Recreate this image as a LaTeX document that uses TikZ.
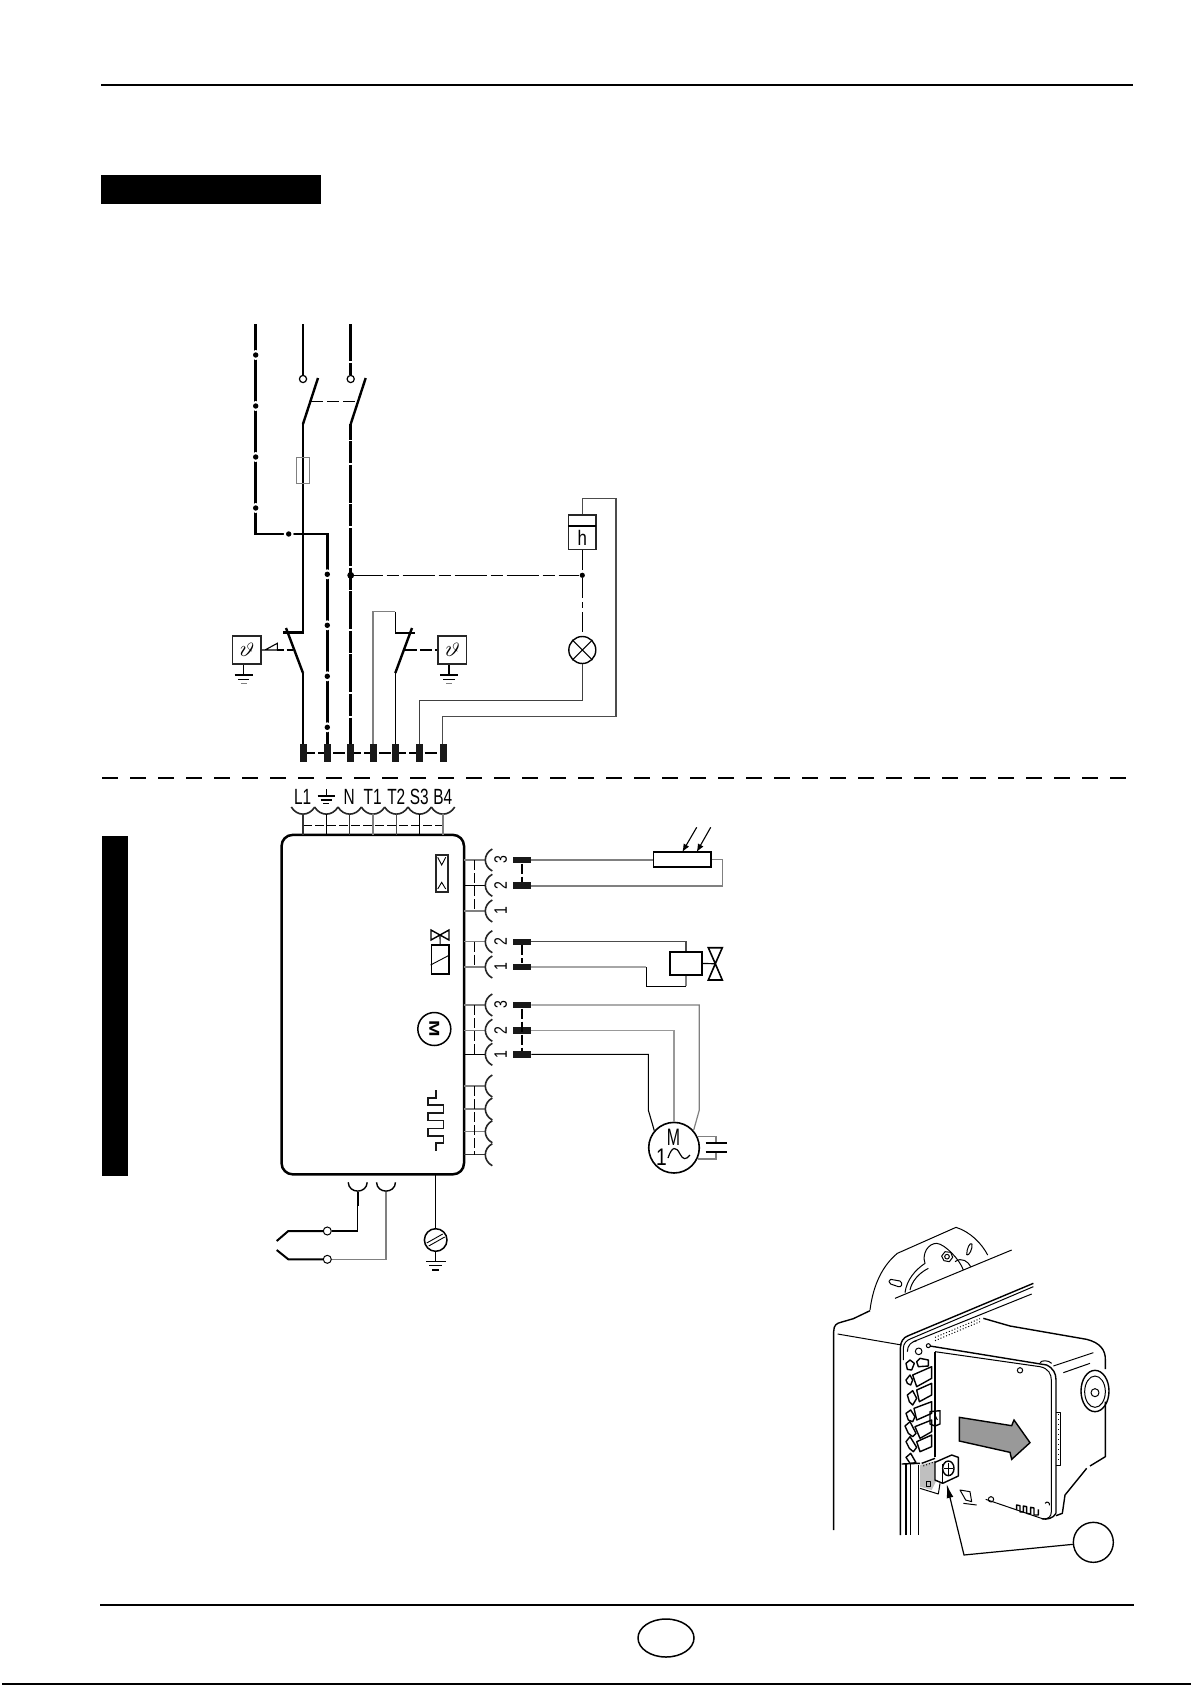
\documentclass[tikz,border=0pt]{standalone}
\usepackage{fontspec}
\usepackage{graphicx}
\setmainfont{Liberation Sans}
\usetikzlibrary{arrows.meta,patterns}
\definecolor{wg}{gray}{0.5}
\tikzset{
 heavy/.style={line width=1.4pt,black},
 fine/.style={line width=0.55pt,black},
 wire/.style={line width=0.6pt,wg},
 frame/.style={line width=0.85pt,draw=black!85},
 tv/.style={rectangle,fill=black!90,inner sep=0pt,minimum width=3.5pt,minimum height=9pt},
 th/.style={rectangle,fill=black!90,inner sep=0pt,minimum width=9pt,minimum height=3.2pt},
 ctc/.style={circle,draw=black,fill=white,line width=0.6pt,inner sep=0pt,minimum size=3.6pt},
 ctcb/.style={circle,draw=black,fill=white,line width=0.5pt,inner sep=0pt,minimum size=4pt},
 lbl/.style={inner sep=0pt,font=\fontsize{11}{11}\selectfont},
 num/.style={inner sep=0pt,rotate=90,font=\fontsize{9}{9}\selectfont},
 ph/.style={line width=0.5pt,black,line join=round},
 phb/.style={line width=0.7pt,black,line join=round},
}
\newcommand\wiredot[2]{\fill[white] (#1,#2) circle (5); \fill (#1,#2) circle (2.7);}
\newcommand\earthsym[3]{%
 \draw[fine] (#1-#3,#2) -- (#1+#3,#2);
 \draw[fine] (#1-#3*0.62,#2+4.2) -- (#1+#3*0.62,#2+4.2);
 \draw[line width=0.6pt,wg] (#1-#3*0.32,#2+8.6) -- (#1+#3*0.32,#2+8.6);}
\begin{document}
\begin{tikzpicture}[x=0.5pt,y=-0.5pt]
\useasboundingbox (0,0) rectangle (1191,1685);
\fill[white] (0,0) rectangle (1191,1685);
% page furniture
\coordinate (topL) at (101,85); \coordinate (topR) at (1133,85);
\draw[line width=1.15pt] (topL) -- (topR);
\fill (101,175) rectangle (321,204);
\fill (102,836) rectangle (128,1176);
\coordinate (botL) at (100,1605); \coordinate (botR) at (1134,1605);
\draw[line width=1.15pt] (botL) -- (botR);
\coordinate (edgeL) at (2,1684); \coordinate (edgeR) at (1191,1684);
\draw[line width=0.7pt] (edgeL) -- (edgeR);
\draw[line width=0.75pt] (666,1638) ellipse (28 and 19);
\coordinate (sepL) at (102,778); \coordinate (sepR) at (1131,778);
\draw[line width=1.15pt,dash pattern=on 8pt off 6pt] (sepL) -- (sepR);

% ---- terminals row
\draw[line width=0.85pt,dash pattern=on 6pt off 1.6pt] (303,753) -- (443,753);
\node[tv] (tL) at (303,753) {};
\node[tv] (tE) at (327.3,753) {};
\node[tv] (tN) at (350.7,753) {};
\node[tv] (tA) at (373,753) {};
\node[tv] (tB) at (395.3,753) {};
\node[tv] (tS) at (419.7,753) {};
\node[tv] (tH) at (443,753) {};

% ---- PE line
\coordinate (peTop) at (255.7,324);
\coordinate (peBend) at (255.7,534);
\coordinate (peRight) at (327.3,534);
\draw[heavy] (peTop) -- (peBend) -- (peRight) -- (tE.north);
\foreach \y in {355,406,457,508} {\wiredot{255.7}{\y}}
\wiredot{288.7}{534}
\foreach \y in {574.3,625.3,676.3,727.3} {\wiredot{327.3}{\y}}

% ---- L line
\node[ctc] (cL) at (303,379) {};
\node[ctc] (cN) at (350.7,379) {};
\coordinate (lTop) at (303,324);
\coordinate (nTop) at (350.7,324);
\draw[heavy] (lTop) -- (cL.north);
\draw[heavy,dash pattern=on 18.5pt off 1pt] (nTop) -- (cN.north);
\coordinate (swL) at (303,424); \coordinate (swLe) at (318,378);
\coordinate (swN) at (350.7,424); \coordinate (swNe) at (365.7,378);
\draw[line width=1.2pt] (swL) -- (swLe);
\draw[line width=1.2pt] (swN) -- (swNe);
\draw[line width=0.7pt,dash pattern=on 6pt off 2pt] (311,401.7) -- (356.7,401.7);
\coordinate (barL) at (303,632.7);
\draw[heavy] (swL) -- (barL) -- (283,632.7);
\node[draw=wg,line width=0.5pt,inner sep=0pt,minimum width=6.5pt,minimum height=12.8pt] (fuse) at (303.2,470.5) {};
\coordinate (blL) at (303,673);
\draw[line width=1.2pt] (286,628) -- (blL);
\draw[heavy] (blL) -- (tL.north);
% ---- N line
\draw[heavy,dash pattern=on 11pt off .8pt on 19pt off .8pt,dash phase=23pt] (swN) -- (tN.north);
\fill (350.7,575.3) circle (3.4);
\node[circle,fill=black,inner sep=0pt,minimum size=2.6pt] (jH) at (582.3,575.3) {};
\draw[fine,dash pattern=on 16pt off 2pt on 6pt off 2pt] (350.7,575.3) -- (jH);

% ---- thermostat right
\coordinate (tA1) at (373,611.7); \coordinate (tA2) at (395.3,611.7); \coordinate (barR) at (395.3,632.7);
\draw[line width=0.7pt,wg] (tA.north) -- (tA1) -- (tA2);
\draw[fine] (tA2) -- (barR);
\draw[line width=1.2pt] (barR) -- (415,632.7);
\coordinate (blR) at (395.3,673);
\draw[line width=1.2pt] (412,628) -- (blR);
\draw[fine] (blR) -- (tB.north);

% thermostat boxes
\node[frame,draw,fill=white,inner sep=0pt,minimum width=14.2pt,minimum height=14.2pt,font=\fontsize{10.5}{10.5}\selectfont] (thL) at (246.8,650) {\rotatebox{-20}{$\vartheta$}};
\node[frame,draw,fill=white,inner sep=0pt,minimum width=14.2pt,minimum height=14.2pt,font=\fontsize{10.5}{10.5}\selectfont] (thR) at (452.2,650) {\rotatebox{-20}{$\vartheta$}};
\coordinate (gL) at (243.7,675); \coordinate (gR) at (449,675);
\draw[fine] (thL.south -| gL) -- (gL);
\draw[fine] (thR.south -| gR) -- (gR);
\earthsym{243.7}{675}{9}
\earthsym{449}{675}{9}
\coordinate (trA) at (265,650); \coordinate (trB) at (277.3,643.3); \coordinate (trC) at (277.3,650); \coordinate (bladeL) at (293,650); \coordinate (bladeR) at (405,650);
\draw[fine] (thL.east) -- (trA) -- (trB) -- (trC) -- cycle;
\draw[fine,dash pattern=on 3.5pt off 1.2pt] (trC) -- (bladeL);
\draw[fine,dash pattern=on 6pt off 1.5pt] (bladeR) -- (thR.west);

% hour counter and lamp
\node[frame,draw,inner sep=0pt,minimum width=13.9pt,minimum height=17.2pt] (hc) at (582.3,532.2) {};
\draw[line width=.8pt] (568.3,526) -- (596.3,526);
\node[inner sep=0pt,font=\fontsize{10.5}{10.5}\selectfont] (hlbl) at (582.3,538) {\scalebox{.8}[1]{h}};
\node[circle,draw,line width=.7pt,inner sep=0pt,minimum size=13.5pt] (lamp) at (582.3,650) {};
\draw[line width=.5pt] (lamp.north west) -- (lamp.south east) (lamp.north east) -- (lamp.south west);
\draw[fine,dash pattern=on 10pt off 2pt on 3pt off 2pt] (hc.south) -- (jH) -- (lamp.north);
\coordinate (h1) at (582.3,498.7); \coordinate (h2) at (616,498.7); \coordinate (h3) at (616,716.3); \coordinate (h4) at (442.7,716.3);
\draw[wire,black!70] (hc.north) -- (h1) -- (h2) -- (h3) -- (h4) -- (h4 |- tH.north);
\coordinate (l1) at (582.3,700.3); \coordinate (l2) at (419.7,700.3);
\draw[wire,black!75] (lamp.south) -- (l1) -- (l2) -- (tS.north);

% ================ lower section
\node[draw,line width=1.25pt,rounded corners=5.5pt,inner sep=0pt,minimum width=91.2pt,minimum height=169.7pt] (main) at (372.8,1004.6) {};
\foreach \x/\t/\n in {302.7/L1/a,349.3/N/c,372.7/T1/d,396.3/T2/e,419.3/S3/f,442.7/B4/g} {
  \node[lbl] (lb\n) at (\x,797) {\scalebox{0.7}[1]{\t}};
}
\coordinate (eTop) at (326.3,789); \coordinate (eBot) at (326.3,796);
\draw[fine] (eTop) -- (eBot);
\draw[fine] (317.7,796) -- (335,796);
\draw[fine] (320.7,800) -- (332.3,800);
\draw[fine] (323.3,803.3) -- (329.3,803.3);
\draw[line width=.5pt,dash pattern=on 4.5pt off 1.5pt] (303,825) -- (443,825);
\foreach \x/\c in {303/black!80,326.3/black,349.7/black!80,373/wg,396.3/black!70,419.7/black,443/wg} {
  \draw[line width=0.8pt,black!85] (\x-11.7,807) .. controls (\x-6,816.5) and (\x+6,816.5) .. (\x+11.7,807);
  \draw[line width=0.55pt,\c] (\x,814) -- (\x,835);
}
% right sockets
\foreach \y/\c in {860/wg,885.3/black,911/wg,941.7/wg,967/wg,1005/wg,1030.3/wg,1054.3/black,1086/wg,1109/wg,1131.7/wg,1154.7/black!80} {
  \draw[line width=0.55pt,\c] (464,\y) -- (485,\y);
  \draw[line width=0.8pt,black!85] (492.3,\y-11) .. controls (483,\y-6) and (483,\y+6) .. (492.3,\y+11);
}
\foreach \a/\b in {860/911,941.7/967,1005/1054.3,1086/1154.7} {
  \draw[fine,dash pattern=on 5pt off 1.5pt] (474.7,\a) -- (474.7,\b);
}
\foreach \y/\t/\n in {860/3/a,885.3/2/b,911/1/c,941.7/2/d,967/1/e,1005/3/f,1030.3/2/g,1054.3/1/h} {
  \node[num] (nm\n) at (500.7,\y) {\scalebox{0.78}[1]{\t}};
}
% plug terminals
\node[th] (p3a) at (522,860) {};
\node[th] (p2a) at (522,885.3) {};
\node[th] (p2b) at (522,941.7) {};
\node[th] (p1b) at (522,967) {};
\node[th] (p3c) at (522,1005) {};
\node[th] (p2c) at (522,1030.3) {};
\node[th] (p1c) at (522,1054.3) {};
\draw[line width=.9pt,dash pattern=on 5pt off 1.5pt] (p3a) -- (p2a);
\draw[line width=.9pt,dash pattern=on 5pt off 1.5pt] (p2b) -- (p1b);
\draw[line width=.9pt,dash pattern=on 5pt off 1.5pt] (p3c) -- (p1c);
% potentiometer
\node[draw,line width=.8pt,inner sep=0pt,minimum width=28.7pt,minimum height=7.3pt] (res) at (682,859.5) {};
\draw[wire] (p3a.east) -- (p3a.east -| res.west);
\coordinate (r1) at (722.3,859.5); \coordinate (r2) at (722.3,886);
\draw[wire] (res.east) -- (r1) -- (r2) -- (r2 -| p2a.east) -- (p2a.east);
\coordinate (ar1) at (696.7,827.3); \coordinate (ar2) at (710.7,827.3);
\draw[fine,-{Latex[length=4pt,width=3.2pt]}] (ar1) -- (682.3,852);
\draw[fine,-{Latex[length=4pt,width=3.2pt]}] (ar2) -- (696.7,852);
% valve
\node[draw,line width=.8pt,inner sep=0pt,minimum width=16pt,minimum height=11.6pt] (vc) at (686,963.5) {};
\coordinate (v1) at (686,941.7);
\draw[wire,black!70] (p2b.east) -- (v1) -- (vc.north);
\coordinate (v2) at (686,986.3); \coordinate (v3) at (646.3,986.3); \coordinate (v4) at (646.3,967);
\draw[wire] (vc.south) -- (v2);
\draw[fine] (v2) -- (v3) -- (v4);
\draw[line width=.8pt,wg!70] (v4) -- (p1b.east);
\coordinate (va) at (715.3,963.7);
\draw[line width=.6pt] (vc.east) -- (va);
\draw[line width=.8pt] (va) -- (708.3,947.7) -- (722.3,947.7) -- cycle;
\draw[line width=.8pt] (va) -- (708.3,980) -- (722.3,980) -- cycle;
% motor
\node[circle,draw,line width=.8pt,inner sep=0pt,minimum size=25.3pt] (mot) at (674,1147.7) {};
\node[inner sep=0pt,font=\fontsize{11}{11}\selectfont] (motM) at (673.5,1137.5) {\scalebox{.72}[1.08]{M}};
\node[inner sep=0pt,font=\fontsize{12}{12}\selectfont] (mot1) at (661.5,1157) {\scalebox{.8}[1]{1}};
\draw[line width=.6pt] (668,1158) .. controls (672,1146) and (676,1146) .. (680,1154) .. controls (683,1160) and (686,1160) .. (690,1155);
\coordinate (m31) at (699.3,1005); \coordinate (m32) at (699.3,1110); \coordinate (m33) at (693.7,1130);
\draw[wire] (p3c.east) -- (m31) -- (m32) -- (m33);
\coordinate (m21) at (674,1030.3);
\draw[wire,wg!80] (p2c.east) -- (m21) -- (mot.north);
\coordinate (m11) at (648.3,1054.3); \coordinate (m12) at (648.3,1110); \coordinate (m13) at (654.3,1130.7);
\draw[fine] (p1c.east) -- (m11) -- (m12) -- (m13);
\coordinate (c1) at (697.7,1136.7); \coordinate (c2) at (716,1136.7); \coordinate (c3) at (716,1143.3);
\coordinate (c4) at (697.7,1159); \coordinate (c5) at (716,1159); \coordinate (c6) at (716,1151.7);
\draw[wire] (c1) -- (c2) -- (c3);
\draw[wire] (c4) -- (c5) -- (c6);
\draw[line width=1.1pt] (705.7,1143.3) -- (726.7,1143.3) (705.7,1151.7) -- (726.7,1151.7);
% internal symbols
\draw[line width=.8pt,black!85] (435.7,855) rectangle (447.7,891.7);
\draw[line width=.45pt] (437.7,857.3) -- (441.7,865) -- (445.7,857.3);
\draw[line width=.45pt] (437.7,889) -- (441.7,882.3) -- (445.7,889);
\coordinate (bw) at (440,935);
\draw[line width=.7pt] (bw) -- (431,930) -- (431,940) -- cycle;
\draw[line width=.7pt] (bw) -- (449,930) -- (449,940) -- cycle;
\node[draw,line width=.7pt,inner sep=0pt,minimum width=8.8pt,minimum height=14.5pt] (sol) at (440.1,959.5) {};
\draw[fine] (bw) -- (sol.north);
\draw[line width=.45pt] (sol.west |- 0,965) -- (sol.east |- 0,955);
\node[circle,draw,line width=.75pt,inner sep=0pt,minimum size=16.5pt] (msym) at (434.3,1029) {};
\node[inner sep=0pt,rotate=-90,font=\bfseries\fontsize{9}{9}\selectfont] (msyml) at (434.3,1029) {\scalebox{1.1}[.8]{M}};
\draw[line width=.8pt,black!90,line join=miter] (435.7,1090) -- (435.7,1097.7) -- (427.7,1097.7) -- (427.7,1105) -- (443.3,1105) -- (443.3,1112.7) -- (427.7,1112.7) -- (427.7,1120.3) -- (443.3,1120.3) -- (443.3,1128.3) -- (427.7,1128.3) -- (427.7,1135.7) -- (443.3,1135.7) -- (443.3,1142.7) -- (435.7,1142.7) -- (435.7,1150.7);
% bottom sockets
\coordinate (cupA) at (357.7,1192); \coordinate (cupB) at (386,1192);
\foreach \x in {357.7,386} {
  \draw[line width=.7pt] (\x-9.5,1182.3) .. controls (\x-9,1194) and (\x+9,1194) .. (\x+9.5,1182.3);
  \draw[line width=.9pt] (\x,1192) -- (\x,1205.7);
}
\node[ctcb] (cA) at (327.3,1231) {};
\node[ctcb] (cB) at (327.3,1259.3) {};
\coordinate (wa) at (357.7,1231); \coordinate (wb) at (386,1259.3);
\draw[fine] (cupA) -- (wa) -- (cA);
\draw[wire] (cupB) -- (wb) -- (cB);
\coordinate (pa) at (288.3,1231); \coordinate (pb) at (288.3,1259.3);
\draw[line width=1pt] (cA) -- (pa) -- (276.7,1241);
\draw[line width=1pt] (cB) -- (pb) -- (276.7,1250);
% earth screw
\node[circle,draw,line width=.75pt,inner sep=0pt,minimum size=11.3pt] (scr) at (435.7,1240) {};
\coordinate (mainS) at (435.7,1174.3);
\draw[fine] (mainS) -- (scr.north);
\draw[line width=.45pt] (426.7,1243) -- (442.7,1234) (428.7,1246) -- (444.7,1237);
\coordinate (gE) at (435.7,1261.7);
\draw[fine] (scr.south) -- (gE);
\draw[fine] (426,1261.7) -- (445.7,1261.7);
\draw[fine] (429.3,1265.7) -- (441.7,1265.7);
\draw[fine] (432.3,1270) -- (439,1270);

% ================ actuator view (drawn directly, in 1/3 pixel units)
\begin{scope}[shift={(820,1220)},scale=1/3]
 % flange
 \draw[ph] (150,270) .. controls (160,190) and (190,135) .. (232,100) -- (408,22) .. controls (450,35) and (485,70) .. (503,105);
 \draw[ph] (225,235) -- (575,90);
 \draw[ph] (255,218) .. controls (260,180) and (285,150) .. (315,130) .. controls (305,100) and (325,70) .. (350,70) .. controls (375,72) and (420,120) .. (430,150);
 \draw[ph] (270,210) .. controls (275,185) and (295,160) .. (325,145);
 \draw[ph] (375,95) -- (392,97) -- (398,112) -- (388,125) -- (372,122) -- (365,108) -- cycle;
 \draw[ph] (381,110) circle (7);
 \draw[ph] (212,178) -- (240,183) .. controls (250,190) and (245,203) .. (235,200) -- (212,192) .. controls (205,188) and (205,180) .. (212,178);
 \draw[ph] (440,105) .. controls (440,85) and (450,65) .. (456,72) .. controls (458,85) and (448,108) .. (440,105);
 \draw[ph] (405,125) .. controls (425,110) and (445,125) .. (452,140);
 % housing
 \draw[phb] (41,930) -- (41,335) .. controls (41,315) and (50,310) .. (62,307) -- (100,296) -- (150,272);
 \draw[ph] (53,342) -- (245,375);
 \draw[phb] (241,945) -- (241,385) .. controls (241,365) and (250,352) .. (265,347) -- (640,190);
 \draw[ph] (250,420) -- (250,385) .. controls (250,370) and (260,360) .. (275,355) -- (640,200);
 \draw[ph] (280,365) -- (635,222);
 \draw[ph] (262,395) .. controls (262,375) and (275,365) .. (290,362);
 \draw[ph] (296,394) circle (10);
 \draw[ph] (325,377) circle (6);
 \draw[ph,densely dotted] (345,352) -- (480,296);
 \draw[ph,densely dotted] (345,362) -- (480,305);
 % actuator
 \draw[phb] (490,295) -- (570,318) -- (800,358) .. controls (840,368) and (857,390) .. (856,420) -- (856,447);
 \draw[ph] (700,438) -- (820,398);
 \draw[ph] (730,458) -- (810,430);
 \draw[phb] (330,378) -- (680,435) .. controls (700,445) and (708,460) .. (708,480) -- (708,880);
 \draw[ph] (345,395) -- (660,440) .. controls (685,445) and (694,462) .. (694,480) -- (694,875) .. controls (694,890) and (685,897) .. (670,897) -- (497,838);
 \draw[phb] (708,880) .. controls (700,895) and (680,900) .. (665,896);
 \draw[phb] (345,395) -- (345,710);
 \draw[ph] (660,428) .. controls (665,420) and (685,420) .. (695,430);
 \draw[ph] (600,451) circle (8);
 % knob
 \draw[phb] (825,513) ellipse (42 and 62);
 \draw[ph] (825,515) ellipse (31 and 47);
 \draw[ph] (825,518) circle (12);
 % rear body
 \draw[phb] (856,545) -- (856,710) -- (810,738);
 \draw[phb] (800,745) -- (735,825) -- (727,880) -- (708,887);
 \draw[ph] (708,577) -- (720,577) -- (720,735) -- (708,735);
 \draw[ph,dotted] (714,582) -- (714,730);
 % arrow
 \draw[line width=.7pt,fill=black!40] (418,592) -- (575,617) -- (582,600) -- (630,668) -- (575,718) -- (570,697) -- (418,663) -- cycle;
 % terminal blocks
 \draw[phb] (258,430) -- (270,420) -- (283,430) -- (275,450) -- (262,448) -- cycle;
 \draw[phb] (290,425) -- (300,415) -- (325,420) -- (325,438) -- (295,440) -- cycle;
 \draw[phb] (258,480) -- (270,465) -- (278,480) -- (272,495) -- (262,490) -- cycle;
 \draw[phb] (278,465) -- (335,440) -- (335,475) -- (290,500) -- cycle;
 \draw[phb] (262,525) -- (278,512) -- (290,535) -- (278,555) -- (268,545) -- cycle;
 \draw[phb] (290,510) -- (335,490) -- (335,525) -- (298,545) -- cycle;
 \draw[phb] (258,580) -- (272,570) -- (285,590) -- (278,605) -- (265,600) -- cycle;
 \draw[phb] (282,565) -- (335,545) -- (335,580) -- (290,600) -- cycle;
 \draw[phb] (255,618) -- (270,605) -- (288,640) -- (278,650) -- (265,640) -- cycle;
 \draw[phb] (285,620) -- (335,600) -- (335,635) -- (300,655) -- cycle;
 \draw[phb] (258,665) -- (270,650) -- (290,682) -- (280,695) -- (268,685) -- cycle;
 \draw[phb] (290,665) -- (335,645) -- (335,680) -- (300,695) -- cycle;
 \draw[phb] (258,712) -- (272,700) -- (288,728) -- (270,730) -- cycle;
 \draw[phb] (330,575) -- (360,572) -- (360,612) -- (345,618) -- (330,612) -- cycle;
 \draw[ph] (345,585) -- (352,600);
 % terminal screw block
 \fill[black!25] (300,735) -- (350,722) -- (350,780) -- (335,810) -- (300,800) -- cycle;
 \draw[ph] (300,805) -- (355,822) -- (360,790);
 \draw[phb] (305,730) -- (345,715);
 \draw[ph,densely dotted] (310,738) -- (345,725);
 \draw[ph] (320,785) rectangle (332,798);
 \draw[phb,fill=white] (345,727) -- (395,705) -- (415,712) -- (415,768) -- (368,790) -- (345,780) -- cycle;
 \draw[phb] (367,733) -- (367,788);
 \draw[phb] (385,745) ellipse (17 and 22);
 \draw[phb] (372,745) -- (400,745) (386,728) -- (386,768);
 % rails
 \draw[phb] (258,730) -- (258,945);
 \draw[phb] (272,730) -- (272,945);
 \draw[phb] (295,735) -- (295,945);
 \draw[phb] (245,732) -- (300,730);
 % lower details
 \draw[ph] (420,810) -- (450,815) -- (455,845) -- (437,840) -- cycle;
 \draw[ph] (430,850) -- (470,855);
 \draw[ph] (513,838) circle (8);
 \draw[phb] (590,870) -- (590,855) -- (600,857) -- (600,876) -- (610,876) -- (610,858) -- (620,860) -- (620,880) -- (632,882) -- (632,862) -- (642,864) -- (642,885) -- (655,885) -- (655,868);
 \draw[ph] (675,850) .. controls (682,842) and (690,848) .. (688,856);
 % pointer
 \node[circle,draw,line width=.7pt,inner sep=0pt,minimum size=20pt] (callout) at (820,967) {};
 \coordinate (kn) at (432,1005);
 \draw[line width=.6pt,-{Latex[length=7pt,width=3.4pt]}] (callout) -- (kn) -- (380,792);
\end{scope}
\end{tikzpicture}
\end{document}
